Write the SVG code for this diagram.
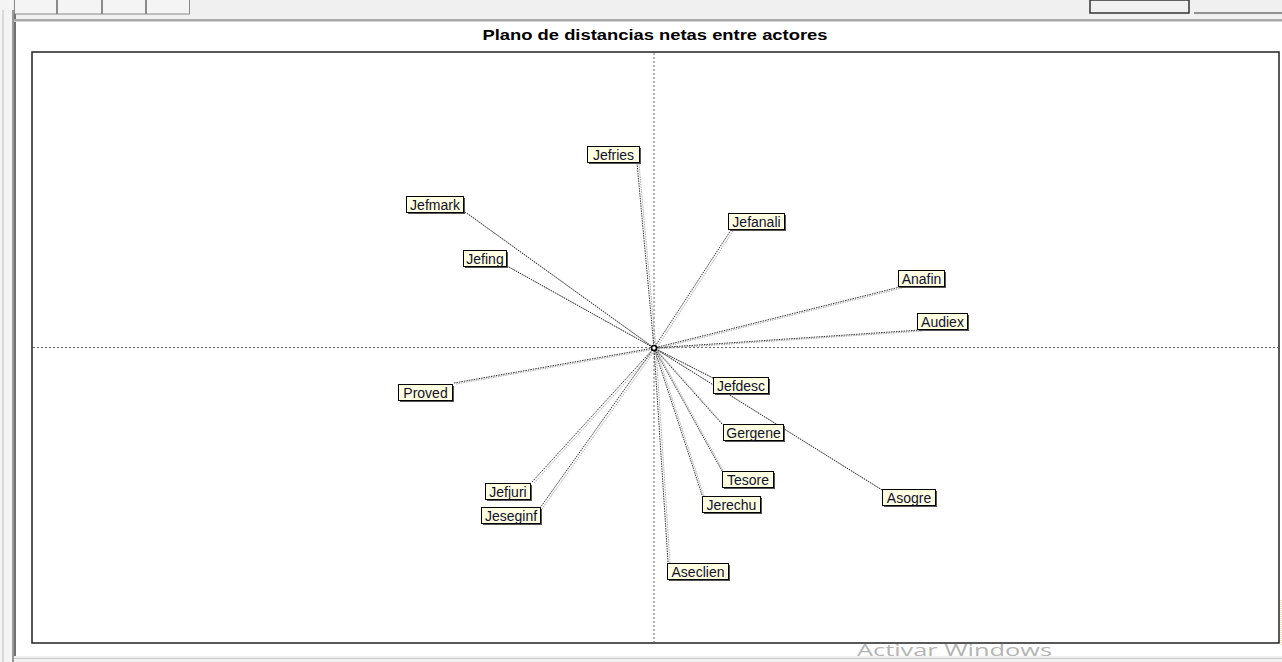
<svg xmlns="http://www.w3.org/2000/svg" width="1282" height="662" viewBox="0 0 1282 662">
<style>
.chrome{fill:#f0f0f0}
.axis{stroke:#666;stroke-width:1;stroke-dasharray:2,2;fill:none}
.c1{stroke:#333;stroke-width:1;stroke-dasharray:1.5,1;fill:none}
.c2{stroke:#aaa;stroke-width:1;stroke-dasharray:1.5,1;fill:none}
.sh{fill:#555}
.box{fill:#ffffe1;stroke:#000;stroke-width:1}
.lbl{font-family:"Liberation Sans",Arial,sans-serif;font-size:14px;fill:#101030}
.title{font-family:"Liberation Sans",Arial,sans-serif;font-size:14.5px;font-weight:bold;fill:#000}
</style>
<rect width="1282" height="662" fill="#ffffff"/>
<g id="chrome">
<rect x="0" y="0" width="1282" height="20" class="chrome"/>
<rect x="0" y="0" width="13" height="662" fill="#f4f4f4"/>
<rect x="2" y="10" width="2" height="652" fill="#d8d8d8"/>
<rect x="12" y="10" width="2" height="652" fill="#9a9a9a"/>
<rect x="14" y="10" width="2" height="652" fill="#707070"/>
<g fill="#f4f4f4" stroke="#8a8a8a" stroke-width="1">
<rect x="14.5" y="-1" width="42" height="15"/>
<rect x="57.5" y="-1" width="44" height="15"/>
<rect x="102.5" y="-1" width="43" height="15"/>
<rect x="146.5" y="-1" width="43" height="15"/>
</g>
<rect x="1090" y="0" width="99" height="13" fill="#f0f0f0" stroke="#333" stroke-width="1.5"/>
<rect x="1194" y="12" width="88" height="2" fill="#909090"/>
<rect x="14" y="19" width="1268" height="2" fill="#a8a8a8"/>
<rect x="14" y="21" width="1268" height="1" fill="#d0d0d0"/>
<rect x="14" y="656" width="1268" height="6" fill="#f0f0f0"/>
<rect x="14" y="658" width="1268" height="1" fill="#c8c8c8"/>
<line x1="1281" y1="600" x2="1281" y2="645" stroke="#d8c890" stroke-width="1" stroke-dasharray="1,1"/>
</g>
<text class="title" x="655" y="40" text-anchor="middle" textLength="345" lengthAdjust="spacingAndGlyphs">Plano de distancias netas entre actores</text>
<rect x="32" y="52" width="1247" height="591" fill="#ffffff" stroke="#222" stroke-width="1.5"/>
<g id="axes">
<line class="axis" x1="654" y1="53" x2="654" y2="642"/>
<line class="axis" x1="33" y1="347.5" x2="1278" y2="347.5"/>
</g>
<g id="connectors">
<g class="c2" transform="translate(2,1)">
<line x1="637" y1="163" x2="654" y2="348"/>
<line x1="465" y1="212" x2="654" y2="348"/>
<line x1="507" y1="266" x2="654" y2="348"/>
<line x1="731" y1="230" x2="654" y2="348"/>
<line x1="900" y1="287" x2="654" y2="348"/>
<line x1="920" y1="330" x2="654" y2="348"/>
<line x1="454" y1="383" x2="654" y2="348"/>
<line x1="713" y1="378" x2="654" y2="348"/>
<line x1="722" y1="424" x2="654" y2="348"/>
<line x1="722" y1="471" x2="654" y2="348"/>
<line x1="702" y1="495" x2="654" y2="348"/>
<line x1="532" y1="482" x2="654" y2="348"/>
<line x1="540" y1="508" x2="654" y2="348"/>
<line x1="882" y1="490" x2="654" y2="348"/>
<line x1="668" y1="562" x2="654" y2="348"/>
</g>
<g class="c1">
<line x1="637" y1="163" x2="654" y2="348"/>
<line x1="465" y1="212" x2="654" y2="348"/>
<line x1="507" y1="266" x2="654" y2="348"/>
<line x1="731" y1="230" x2="654" y2="348"/>
<line x1="900" y1="287" x2="654" y2="348"/>
<line x1="920" y1="330" x2="654" y2="348"/>
<line x1="454" y1="383" x2="654" y2="348"/>
<line x1="713" y1="378" x2="654" y2="348"/>
<line x1="722" y1="424" x2="654" y2="348"/>
<line x1="722" y1="471" x2="654" y2="348"/>
<line x1="702" y1="495" x2="654" y2="348"/>
<line x1="532" y1="482" x2="654" y2="348"/>
<line x1="540" y1="508" x2="654" y2="348"/>
<line x1="882" y1="490" x2="654" y2="348"/>
<line x1="668" y1="562" x2="654" y2="348"/>
</g>
</g>
<g id="origin"><circle cx="654" cy="348" r="2.5" fill="#fff" stroke="#000" stroke-width="1.5"/></g>
<g id="Jefries"><rect class="sh" x="589" y="148" width="52" height="16"/><rect class="box" x="587.5" y="146.5" width="52" height="16"/><text class="lbl" x="613.5" y="159.5" text-anchor="middle">Jefries</text></g>
<g id="Jefmark"><rect class="sh" x="408" y="198" width="57" height="16"/><rect class="box" x="406.5" y="196.5" width="57" height="16"/><text class="lbl" x="435" y="209.5" text-anchor="middle">Jefmark</text></g>
<g id="Jefing"><rect class="sh" x="465" y="252" width="43" height="16"/><rect class="box" x="463.5" y="250.5" width="43" height="16"/><text class="lbl" x="485" y="263.5" text-anchor="middle">Jefing</text></g>
<g id="Jefanali"><rect class="sh" x="730" y="215" width="56" height="16"/><rect class="box" x="728.5" y="213.5" width="56" height="16"/><text class="lbl" x="756.5" y="226.5" text-anchor="middle">Jefanali</text></g>
<g id="Anafin"><rect class="sh" x="900" y="272" width="46" height="16"/><rect class="box" x="898.5" y="270.5" width="46" height="16"/><text class="lbl" x="921.5" y="283.5" text-anchor="middle">Anafin</text></g>
<g id="Audiex"><rect class="sh" x="919" y="315" width="50" height="16"/><rect class="box" x="917.5" y="313.5" width="50" height="16"/><text class="lbl" x="942.5" y="326.5" text-anchor="middle">Audiex</text></g>
<g id="Proved"><rect class="sh" x="400" y="386" width="54" height="16"/><rect class="box" x="398.5" y="384.5" width="54" height="16"/><text class="lbl" x="425.5" y="397.5" text-anchor="middle">Proved</text></g>
<g id="Jefdesc"><rect class="sh" x="715" y="379" width="55" height="16"/><rect class="box" x="713.5" y="377.5" width="55" height="16"/><text class="lbl" x="741" y="390.5" text-anchor="middle">Jefdesc</text></g>
<g id="Gergene"><rect class="sh" x="725" y="426" width="60" height="16"/><rect class="box" x="723.5" y="424.5" width="60" height="16"/><text class="lbl" x="753.5" y="437.5" text-anchor="middle">Gergene</text></g>
<g id="Tesore"><rect class="sh" x="724" y="473" width="51" height="16"/><rect class="box" x="722.5" y="471.5" width="51" height="16"/><text class="lbl" x="748" y="484.5" text-anchor="middle">Tesore</text></g>
<g id="Jerechu"><rect class="sh" x="704" y="498" width="58" height="16"/><rect class="box" x="702.5" y="496.5" width="58" height="16"/><text class="lbl" x="731.5" y="509.5" text-anchor="middle">Jerechu</text></g>
<g id="Asogre"><rect class="sh" x="884" y="491" width="53" height="16"/><rect class="box" x="882.5" y="489.5" width="53" height="16"/><text class="lbl" x="909" y="502.5" text-anchor="middle">Asogre</text></g>
<g id="Jefjuri"><rect class="sh" x="487" y="485" width="45" height="16"/><rect class="box" x="485.5" y="483.5" width="45" height="16"/><text class="lbl" x="508" y="496.5" text-anchor="middle">Jefjuri</text></g>
<g id="Jeseginf"><rect class="sh" x="483" y="509" width="59" height="16"/><rect class="box" x="481.5" y="507.5" width="59" height="16"/><text class="lbl" x="511" y="520.5" text-anchor="middle">Jeseginf</text></g>
<g id="Aseclien"><rect class="sh" x="669" y="565" width="61" height="16"/><rect class="box" x="667.5" y="563.5" width="61" height="16"/><text class="lbl" x="698" y="576.5" text-anchor="middle">Aseclien</text></g>
<text x="857" y="656" font-family="'Open Sans','Noto Sans',sans-serif" font-size="17" fill="#b4b4b4" textLength="195" lengthAdjust="spacingAndGlyphs">Activar Windows</text>
</svg>
